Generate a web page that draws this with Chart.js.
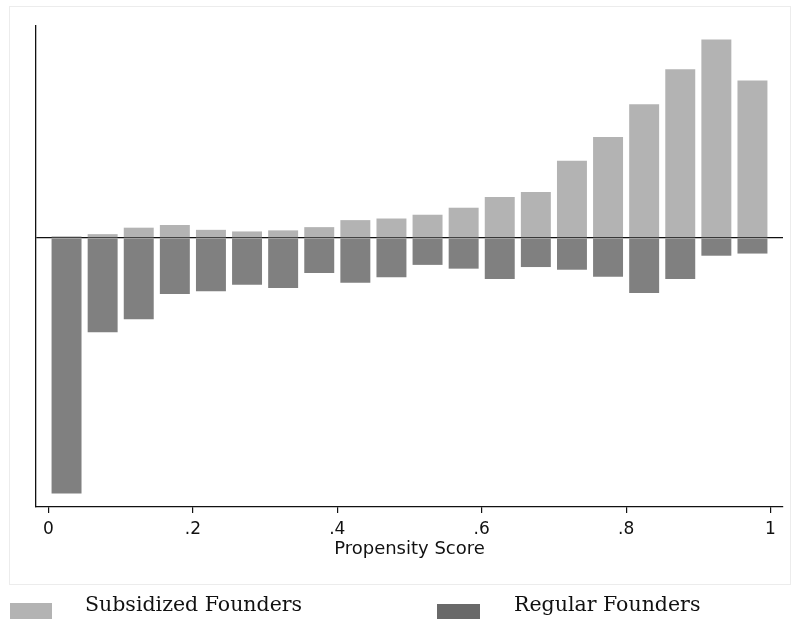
<!DOCTYPE html>
<html>
<head>
<meta charset="utf-8">
<script src="https://cdn.jsdelivr.net/npm/chart.js@4.4.1/dist/chart.umd.min.js"></script>
<style>
  html, body { margin: 0; padding: 0; background: #fff; }
  #wrap { position: relative; width: 792px; height: 619px; overflow: hidden; }
  #frame { position: absolute; left: 9px; top: 6px; width: 780px; height: 577px; border: 1px solid #ececec; }
  #chart { position: absolute; left: 0; top: 0; }
  .key { position: absolute; height: 16px; }
  .lbl { position: absolute; font-family: "DejaVu Serif", serif; font-size: 20.5px; color: #111; line-height: 22px; white-space: nowrap; }
</style>
</head>
<body>
<div id="wrap">
  <div id="frame"></div>
  <canvas id="chart" width="792" height="619"></canvas>
  <div class="key" id="key0" style="left:10px;top:603px;width:42px;"></div>
  <div class="lbl" id="lbl0" style="left:85px;top:593px;"></div>
  <div class="key" id="key1" style="left:437px;top:604px;width:43px;"></div>
  <div class="lbl" id="lbl1" style="left:514px;top:593px;"></div>
</div>
<script>
// histogram bins: width .05, centred on .025 ... .975
const binCenters = [0.025, 0.075, 0.125, 0.175, 0.225, 0.275, 0.325, 0.375, 0.425, 0.475,
                    0.525, 0.575, 0.625, 0.675, 0.725, 0.775, 0.825, 0.875, 0.925, 0.975];

// densities
const subsidized = [0.03, 0.07, 0.19, 0.24, 0.15, 0.12, 0.14, 0.20, 0.33, 0.36,
                    0.43, 0.56, 0.76, 0.85, 1.43, 1.87, 2.48, 3.13, 3.68, 2.92];
const regular = [4.74, 1.75, 1.51, 1.04, 0.99, 0.87, 0.93, 0.65, 0.83, 0.73,
                 0.50, 0.57, 0.76, 0.54, 0.59, 0.72, 1.02, 0.76, 0.33, 0.29];

const seriesNames = ["Subsidized Founders", "Regular Founders"];
const xTicks = [0, 0.2, 0.4, 0.6, 0.8, 1];
const xTickLabels = ["0", ".2", ".4", ".6", ".8", "1"];

const colors = { light: "#b3b3b3", dark: "#808080", darkKey: "#696969" };

document.getElementById("key0").style.background = colors.light;
document.getElementById("key1").style.background = colors.darkKey;
document.getElementById("lbl0").textContent = seriesNames[0];
document.getElementById("lbl1").textContent = seriesNames[1];

const tickFont = { family: "'DejaVu Sans', sans-serif", size: 17 };
const titleFont = { family: "'DejaVu Sans', sans-serif", size: 18 };

new Chart(document.getElementById("chart"), {
  type: "bar",
  data: {
    datasets: [
      {
        label: seriesNames[0],
        data: binCenters.map((x, i) => ({ x, y: subsidized[i] })),
        backgroundColor: colors.light,
      },
      {
        label: seriesNames[1],
        data: binCenters.map((x, i) => ({ x, y: -regular[i] })),
        backgroundColor: colors.dark,
      },
    ],
  },
  options: {
    responsive: false,
    animation: false,
    events: [],
    layout: { padding: { left: 36, right: 9, top: 26, bottom: 59 } },
    datasets: { bar: { categoryPercentage: 1, barPercentage: 0.83 } },
    plugins: { legend: { display: false }, tooltip: { enabled: false } },
    scales: {
      x: {
        type: "linear",
        stacked: true,
        offset: false,
        min: -0.0173,
        max: 1.0173,
        afterBuildTicks: (s) => { s.ticks = xTicks.map((v) => ({ value: v })); },
        afterFit: (s) => { s.height = 53; },
        ticks: {
          color: "#111",
          font: tickFont,
          padding: 6,
          maxRotation: 0,
          callback: (v) => xTickLabels[xTicks.indexOf(v)],
        },
        grid: { offset: false, drawOnChartArea: false, drawTicks: true, tickLength: 6, color: "#111", lineWidth: 1.2 },
        border: { display: true, color: "#111", width: 1.3 },
        title: { display: true, text: "Propensity Score", color: "#111", font: titleFont, padding: 0 },
      },
      y: {
        stacked: true,
        min: -4.99,
        max: 3.93,
        z: 1,
        afterBuildTicks: (s) => { s.ticks = [{ value: 0 }]; },
        afterFit: (s) => { s.width = 0; },
        ticks: { display: false },
        grid: { drawTicks: false, color: "#111", lineWidth: 1.2 },
        border: { display: true, color: "#111", width: 1.3 },
      },
    },
  },
});
</script>
</body>
</html>
